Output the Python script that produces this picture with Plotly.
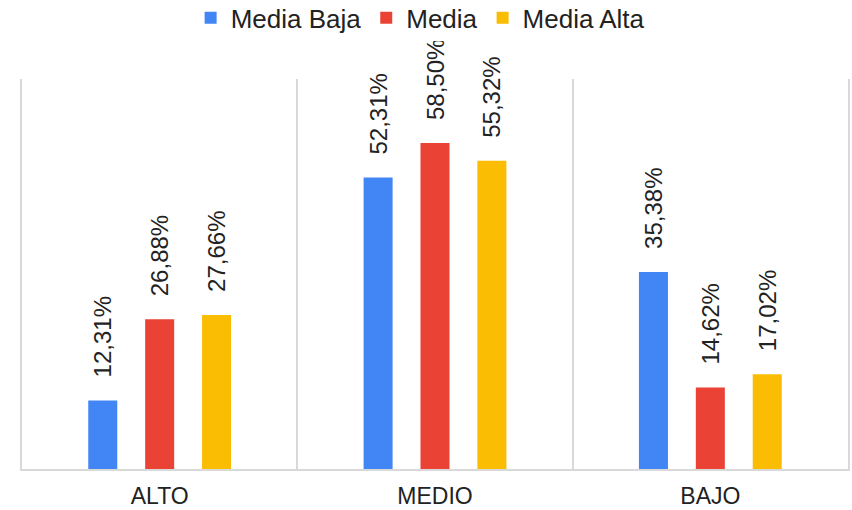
import plotly.graph_objects as go

categories = ["ALTO", "MEDIO", "BAJO"]
series_names = ["Media Baja", "Media", "Media Alta"]
media_baja = [12.31, 52.31, 35.38]
media = [26.88, 58.50, 14.62]
media_alta = [27.66, 55.32, 17.02]
colors = ["#4285F4", "#EA4335", "#FBBC04"]

fig = go.Figure()
for name, vals, col in zip(series_names, [media_baja, media, media_alta], colors):
    fig.add_trace(go.Bar(
        name=name,
        x=categories,
        y=vals,
        marker=dict(color=col, line=dict(width=0)),
        texttemplate="\u00a0\u00a0\u00a0%{y:.2f}%",
        textposition="outside",
        textangle=-90,
        constraintext="none",
        cliponaxis=False,
        textfont=dict(family="Liberation Sans, Arial", size=24, color="#222222"),
    ))

fig.update_layout(
    width=852,
    height=510,
    margin=dict(l=22, r=4, t=79, b=41, autoexpand=False),
    paper_bgcolor="white",
    plot_bgcolor="white",
    separators=",.",
    barmode="group",
    bargap=0.38,
    bargroupgap=0.49,
    font=dict(family="Liberation Sans, Arial", color="#222222"),
    legend=dict(
        orientation="h",
        x=0.482, xanchor="center",
        y=0.965, yref="container", yanchor="middle",
        font=dict(size=26, color="#222222"),
        itemwidth=30,
        traceorder="normal",
    ),
    xaxis=dict(
        automargin=False,
        tickson="boundaries",
        showgrid=True,
        gridcolor="#d9d9d9",
        gridwidth=1.5,
        showline=True,
        linecolor="#d9d9d9",
        linewidth=1.5,
        ticks="",
        ticklabelstandoff=6,
        tickfont=dict(size=23, color="#222222"),
    ),
    yaxis=dict(
        automargin=False,
        range=[0, 70],
        showgrid=False,
        showticklabels=False,
        zeroline=False,
        showline=True,
        mirror=True,
        linecolor="#d9d9d9",
        linewidth=1.5,
    ),
)

fig.write_html("out.html")
